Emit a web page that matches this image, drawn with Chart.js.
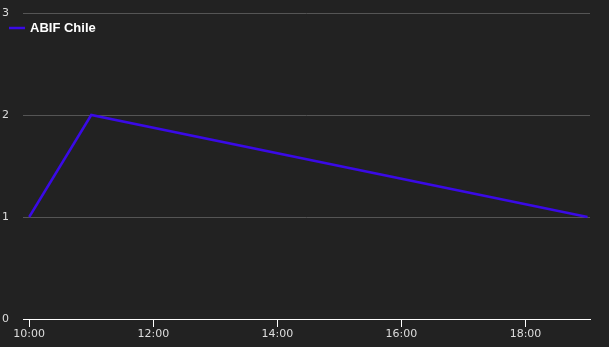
<!DOCTYPE html>
<html>
<head>
<meta charset="utf-8">
<script src="https://cdn.jsdelivr.net/npm/chart.js@4"></script>
<style>
  html, body { margin: 0; padding: 0; background: #222222; }
  #wrap { width: 609px; height: 347px; }
</style>
</head>
<body>
<div id="wrap"><canvas id="chart"></canvas></div>
<script>
// data (hours of the day)
const hours = [10, 11, 19];
const values = [1, 2, 1];
const seriesName = "ABIF Chile";
const xTicks = [10, 12, 14, 16, 18];
const yTicks = [0, 1, 2, 3];

const lineColor = "#3a0ae6";

// legend drawn in the top-left corner, over the plot
const cornerLegend = {
  id: "cornerLegend",
  afterDraw(chart) {
    const ctx = chart.ctx;
    const ds = chart.data.datasets[0];
    ctx.save();
    ctx.strokeStyle = ds.borderColor;
    ctx.lineWidth = 2.5;
    ctx.beginPath();
    ctx.moveTo(9, 28);
    ctx.lineTo(25, 28);
    ctx.stroke();
    ctx.fillStyle = "#ffffff";
    ctx.font = "bold 13px 'Liberation Sans', Arial, sans-serif";
    ctx.textBaseline = "middle";
    ctx.fillText(ds.label, 30, 28);
    ctx.restore();
  }
};

const ctx = document.getElementById("chart").getContext("2d");
const chart = new Chart(ctx, {
  type: "line",
  data: {
    datasets: [
      {
        label: seriesName,
        data: hours.map((h, i) => ({ x: h, y: values[i] })),
        borderColor: lineColor,
        borderWidth: 2.5,
        pointRadius: 0,
        tension: 0,
        fill: false,
      },
    ],
  },
  options: {
    responsive: true,
    maintainAspectRatio: false,
    animation: false,
    layout: { padding: { top: 13, right: 19, left: 2, bottom: 0 } },
    plugins: {
      legend: { display: false },
      tooltip: { enabled: false },
    },
    scales: {
      x: {
        type: "linear",
        min: 9.9,
        max: 19.04,
        afterBuildTicks: (axis) => {
          axis.ticks = xTicks.map((v) => ({ value: v }));
        },
        afterFit: (axis) => {
          axis.height = 28;
        },
        grid: {
          drawOnChartArea: false,
          drawTicks: true,
          tickLength: 8,
          color: "#ffffff",
        },
        border: { display: true, color: "#ffffff", width: 1 },
        ticks: {
          color: "#dddddd",
          padding: 1,
          maxRotation: 0,
          font: { family: "'DejaVu Sans', sans-serif", size: 11 },
          callback: (v) => String(v).padStart(2, "0") + ":00",
        },
      },
      y: {
        min: 0,
        max: 3,
        afterBuildTicks: (axis) => {
          axis.ticks = yTicks.map((v) => ({ value: v }));
        },
        afterFit: (axis) => {
          axis.width = 21;
        },
        grid: {
          drawTicks: false,
          color: "#555555",
        },
        border: { display: false },
        ticks: {
          color: "#dddddd",
          crossAlign: "far",
          padding: 2,
          font: { family: "'DejaVu Sans', sans-serif", size: 11 },
        },
      },
    },
  },
  plugins: [cornerLegend],
});
</script>
</body>
</html>
